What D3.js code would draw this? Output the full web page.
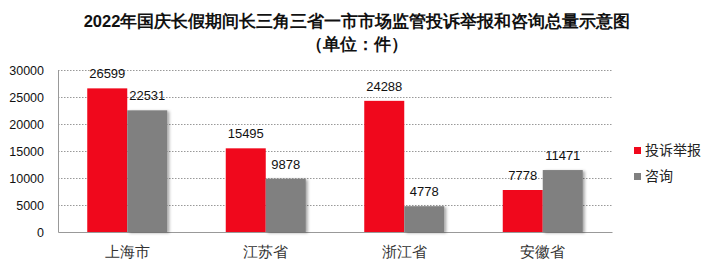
<!DOCTYPE html>
<html lang="zh">
<head>
<meta charset="UTF-8">
<title>chart</title>
<style>
  body { margin: 0; background: #fff; }
  text { font-family: "Liberation Sans", Arial, sans-serif; }
  .cjk { font-family: "Noto Sans CJK SC", sans-serif; }
</style>
</head>
<body>
<svg id="svg"></svg>
<script src="https://d3js.org/d3.v7.min.js"></script>
<script>
// 数据
const categories = ["上海市", "江苏省", "浙江省", "安徽省"];
const seriesNames = ["投诉举报", "咨询"];
const complaints = [26599, 15495, 24288, 7778];
const consults = [22531, 9878, 4778, 11471];
const yTicks = [0, 5000, 10000, 15000, 20000, 25000, 30000];
const colors = ["#f0081c", "#808080"];

const width = 717, height = 272;
const margin = {top: 70, left: 58, right: 105, bottom: 40};

const svg = d3.select("#svg").attr("width", width).attr("height", height);

// 阴影
const defs = svg.append("defs");
const f = defs.append("filter").attr("id", "shadow")
  .attr("x", "-20%").attr("y", "-20%").attr("width", "150%").attr("height", "150%");
f.append("feDropShadow").attr("dx", 2).attr("dy", 1).attr("stdDeviation", 1.5)
  .attr("flood-color", "#000").attr("flood-opacity", 0.35);

// 标题
const title = svg.append("g").attr("class", "cjk")
  .attr("font-weight", "bold").attr("font-size", 16.5).attr("fill", "#111")
  .attr("text-anchor", "middle");
title.append("text").attr("x", 357).attr("y", 27).text("2022年国庆长假期间长三角三省一市市场监管投诉举报和咨询总量示意图");
title.append("text").attr("x", 357).attr("y", 50).text("（单位：件）");

const x = d3.scaleBand().domain(categories)
  .range([margin.left, width - margin.right]);
const x1 = d3.scaleBand().domain(seriesNames)
  .range([0, 80]);
const y = d3.scaleLinear().domain([0, 30000])
  .range([height - margin.bottom, margin.top]);

// 网格线
svg.append("g").selectAll("line")
  .data(yTicks.filter(d => d > 0)).join("line")
  .attr("x1", margin.left).attr("x2", width - margin.right)
  .attr("y1", d => y(d) + 0.5).attr("y2", d => y(d) + 0.5)
  .attr("stroke", "#999").attr("stroke-dasharray", "1.5,1.5");

// y 轴
const yAxis = svg.append("g")
  .attr("transform", `translate(${margin.left},0)`)
  .call(d3.axisLeft(y).tickValues(yTicks).tickSize(0).tickPadding(14).tickFormat(d3.format("d")));
yAxis.select(".domain").attr("stroke", "#999");
yAxis.selectAll("text").attr("font-size", 12.5).attr("fill", "#111")
  .attr("font-family", "Liberation Sans, Arial, sans-serif");

// x 轴
const xAxis = svg.append("g")
  .attr("transform", `translate(0,${y(0)})`)
  .call(d3.axisBottom(x).tickSize(0).tickPadding(14));
xAxis.select(".domain").attr("stroke", "#999");
xAxis.selectAll("text").attr("font-size", 15).attr("fill", "#333")
  .attr("font-family", "Noto Sans CJK SC, sans-serif");

// 柱子
const series = [complaints, consults];
series.forEach((vals, si) => {
  const g = svg.append("g");
  g.selectAll("rect").data(vals).join("rect")
    .attr("x", (d, i) => x(categories[i]) + x.bandwidth() / 2 - 40 + x1(seriesNames[si]))
    .attr("y", d => y(d))
    .attr("width", x1.bandwidth())
    .attr("height", d => y(0) - y(d))
    .attr("fill", colors[si])
    .attr("filter", si === 1 ? "url(#shadow)" : null);
  g.selectAll("text").data(vals).join("text")
    .attr("x", (d, i) => x(categories[i]) + x.bandwidth() / 2 - 40 + x1(seriesNames[si]) + x1.bandwidth() / 2)
    .attr("y", d => y(d) - 10)
    .attr("text-anchor", "middle").attr("font-size", 13).attr("fill", "#111")
    .text(d => d);
});

// 图例
const legend = svg.append("g").attr("transform", `translate(634,${147})`);
seriesNames.forEach((name, i) => {
  const lg = legend.append("g").attr("transform", `translate(0,${i * 26})`);
  lg.append("rect").attr("width", 7).attr("height", 7).attr("fill", colors[i]);
  lg.append("text").attr("class", "cjk").attr("x", 11).attr("y", 8)
    .attr("font-size", 14).attr("fill", "#222").text(name);
});
</script>
</body>
</html>
